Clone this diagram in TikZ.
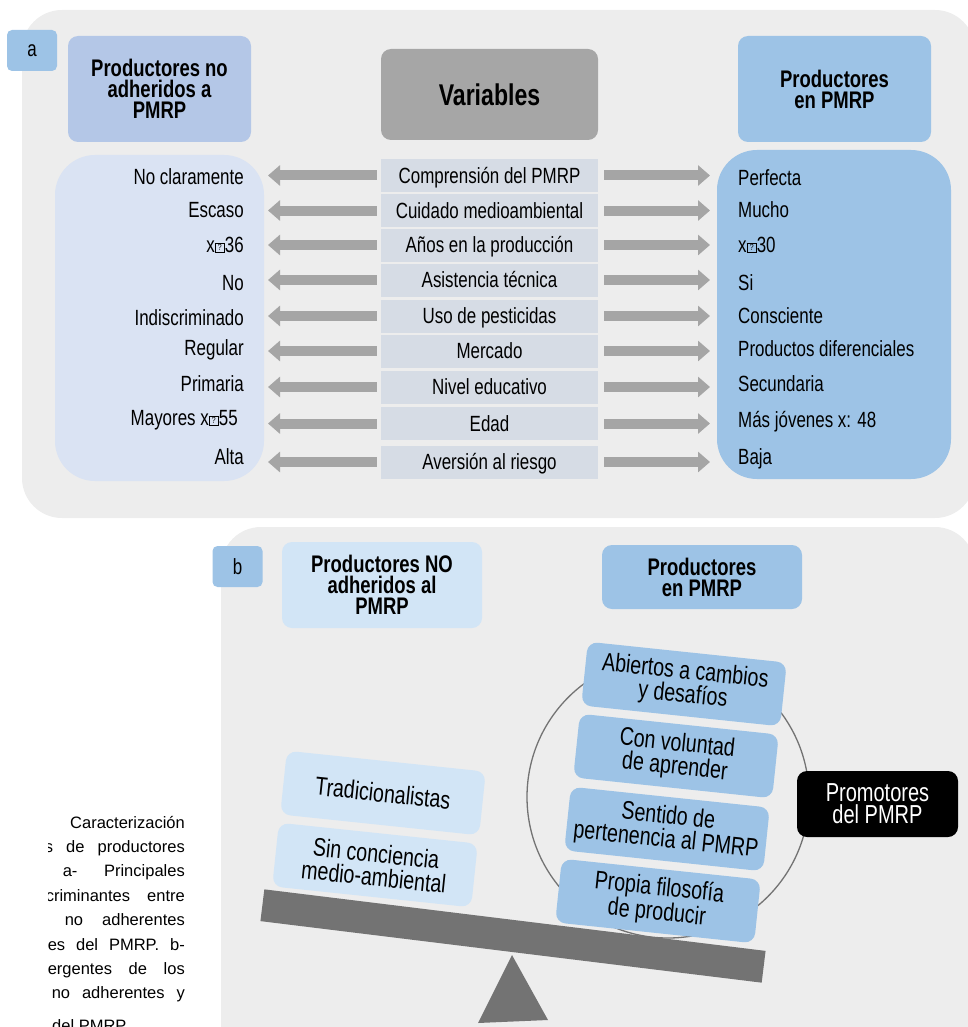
\documentclass[tikz,border=0pt]{standalone}
\usepackage{fontspec}
\setmainfont[FakeStretch=0.77]{Liberation Sans}
\newfontfamily\capfont{Liberation Sans}
\usepackage{xcolor}
\usetikzlibrary{positioning, arrows.meta}

\definecolor{panelgray}{HTML}{EDEDED}
\definecolor{tagblue}{HTML}{9DC3E6}
\definecolor{headblue}{HTML}{B4C7E7}
\definecolor{lavender}{HTML}{DAE3F3}
\definecolor{paleblue}{HTML}{D2E5F6}
\definecolor{varhead}{HTML}{A6A6A6}
\definecolor{rowgray}{HTML}{D6DCE5}
\definecolor{arrowgray}{HTML}{A5A5A5}
\definecolor{beamgray}{HTML}{737373}

\newcommand{\fsz}[2]{\fontsize{#1}{#2}\selectfont}
\newcommand{\nog}{{\setlength{\fboxsep}{1.2pt}\setlength{\fboxrule}{0.6pt}\raisebox{1.6pt}{\fbox{\makebox[6.5pt]{\fsz{9}{9}?}}}}}

\begin{document}
\begin{tikzpicture}[x=1pt, y=-1pt, inner sep=0pt,
    tag/.style={fill=tagblue, rounded corners=5pt, minimum width=50pt, minimum height=41pt, font=\fsz{22}{22}},
    head/.style={rounded corners=10pt, align=center, font=\bfseries\fsz{24}{21}},
    vrow/.style={fill=rowgray, minimum width=217pt, minimum height=33pt, text height=16pt, text depth=1pt, font=\fsz{22}{22}},
    lval/.style={anchor=east, text height=16pt, text depth=1pt, font=\fsz{22}{22}},
    rval/.style={anchor=west, text height=16pt, text depth=1pt, font=\fsz{22}{22}},
    fatarrow/.style={color=arrowgray, line width=10pt, -{Triangle[width=20pt, length=12pt]}},
    trait/.style={rounded corners=10pt, minimum width=200pt, minimum height=64pt, align=center, rotate=-6, font=\fsz{25.5}{23.5}},
    capline/.style={anchor=base east, font=\capfont\fsz{16.5}{16.5}}]

    \useasboundingbox (0,0) rectangle (967,1027);

    % panels
    \fill[panelgray, rounded corners=40pt] (22,10) rectangle (975,518);
    \fill[panelgray, rounded corners=40pt] (221,527) rectangle (975,1070);

    % a
    \node[tag] (ta) at (32,50.5) {a};
    \node[head, fill=headblue, minimum width=183pt, minimum height=106pt] (hl) at (159.5,89) {Productores no\\adheridos a\\PMRP};
    \node[head, fill=varhead, minimum width=217pt, minimum height=91pt, font=\bfseries\fsz{30}{30}] (hv) at (489.5,94.5) {Variables};
    \node[head, fill=tagblue, minimum width=193pt, minimum height=106pt] (hr) at (834.5,89) {Productores\\en PMRP};

    \fill[lavender, rounded corners=40pt] (55,155) rectangle (264,481);
    \fill[tagblue, rounded corners=40pt] (717,150) rectangle (951,479);

    \node[vrow] (v1) at (489.5,175.5) {Comprensión del PMRP};
    \node[vrow] (v2) at (489.5,210.5) {Cuidado medioambiental};
    \node[vrow] (v3) at (489.5,245) {Años en la producción};
    \node[vrow] (v4) at (489.5,280) {Asistencia técnica};
    \node[vrow] (v5) at (489.5,316) {Uso de pesticidas};
    \node[vrow] (v6) at (489.5,351) {Mercado};
    \node[vrow] (v7) at (489.5,387) {Nivel educativo};
    \node[vrow] (v8) at (489.5,423.5) {Edad};
    \node[vrow] (v9) at (489.5,462) {Aversión al riesgo};

    \node[lval] (l1) at (244,177) {No claramente};
    \node[lval] (l2) at (244,210) {Escaso};
    \node[lval] (l3) at (244,245) {x\nog36};
    \node[lval] (l4) at (244,283) {No};
    \node[lval] (l5) at (244,318) {Indiscriminado};
    \node[lval] (l6) at (244,348) {Regular};
    \node[lval] (l7) at (244,384) {Primaria};
    \node[lval] (l8) at (238,418) {Mayores x\nog55};
    \node[lval] (l9) at (244,457) {Alta};

    \node[rval] (r1) at (738,178) {Perfecta};
    \node[rval] (r2) at (738,210) {Mucho};
    \node[rval] (r3) at (738,245) {x\nog30};
    \node[rval] (r4) at (738,283) {Si};
    \node[rval] (r5) at (738,316) {Consciente};
    \node[rval] (r6) at (738,349) {Productos diferenciales};
    \node[rval] (r7) at (738,384) {Secundaria};
    \node[rval] (r8) at (738,420) {Más jóvenes x: 48};
    \node[rval] (r9) at (738,457) {Baja};

    \coordinate (ltip) at (268,0);
    \coordinate (rtip) at (710,0);

    \path[fatarrow, shorten <=4pt]
    (v1.west) edge (v1.west -| ltip)
    (v2.west) edge (v2.west -| ltip)
    (v3.west) edge (v3.west -| ltip)
    (v4.west) edge (v4.west -| ltip)
    (v5.west) edge (v5.west -| ltip)
    (v6.west) edge (v6.west -| ltip)
    (v7.west) edge (v7.west -| ltip)
    (v8.west) edge (v8.west -| ltip)
    (v9.west) edge (v9.west -| ltip);

    \path[fatarrow, shorten <=6pt]
    (v1.east) edge (v1.east -| rtip)
    (v2.east) edge (v2.east -| rtip)
    (v3.east) edge (v3.east -| rtip)
    (v4.east) edge (v4.east -| rtip)
    (v5.east) edge (v5.east -| rtip)
    (v6.east) edge (v6.east -| rtip)
    (v7.east) edge (v7.east -| rtip)
    (v8.east) edge (v8.east -| rtip)
    (v9.east) edge (v9.east -| rtip);

    % b
    \node[tag] (tb) at (237.5,566.5) {b};
    \node[head, fill=paleblue, minimum width=200pt, minimum height=86pt] (hn) at (382,585) {Productores NO\\adheridos al\\PMRP};
    \node[head, fill=tagblue, minimum width=200pt, minimum height=64pt] (hp) at (702,577) {Productores\\en PMRP};

    \draw[beamgray, line width=1.3pt] (668,797) circle[radius=141];

    \node[fill=beamgray, minimum width=505pt, minimum height=32pt, rotate=-7] (beam) at (513,936) {};
    \fill[beamgray] (512,955) -- (548,1020) -- (478,1023) -- cycle;

    \node[trait, fill=tagblue] (p1) at (684,684) {Abiertos a cambios\\y desafíos};
    \node[trait, fill=tagblue] (p2) at (676,756) {Con voluntad\\de aprender};
    \node[trait, fill=tagblue] (p3) at (667,829) {Sentido de\\pertenencia al PMRP};
    \node[trait, fill=tagblue] (p4) at (658,901) {Propia filosofía\\de producir};

    \node[trait, fill=paleblue] (n1) at (383,793) {Tradicionalistas};
    \node[trait, fill=paleblue] (n2) at (375,865) {Sin conciencia\\medio-ambiental};

    \node[fill=black, text=white, rounded corners=10pt, minimum width=161pt, minimum height=66pt, align=center, font=\fsz{26}{22}] (pr) at (877.5,804) {Promotores\\del PMRP};

    % caption
    \begin{scope}
        \clip (48,790) rectangle (200,1030);
        \node[capline] (c1) at (185,828) {Caracterización};
        \node[capline] (c2) at (185,852.4) {\makebox[140pt][s]{s de productores}};
        \node[capline] (c3) at (185,876.8) {\makebox[122pt][s]{a- Principales}};
        \node[capline] (c4) at (185,901.2) {\makebox[139pt][s]{criminantes entre}};
        \node[capline] (c5) at (185,925.6) {\makebox[120pt][s]{no adherentes}};
        \node[capline] (c6) at (185,950) {\makebox[137pt][s]{es del PMRP. b-}};
        \node[capline] (c7) at (185,974.4) {\makebox[137pt][s]{ergentes de los}};
        \node[capline] (c8) at (185,998.8) {\makebox[133pt][s]{no adherentes y}};
        \node[capline, anchor=base west] (c9) at (52,1031) {del PMRP};
    \end{scope}
\end{tikzpicture}
\end{document}
